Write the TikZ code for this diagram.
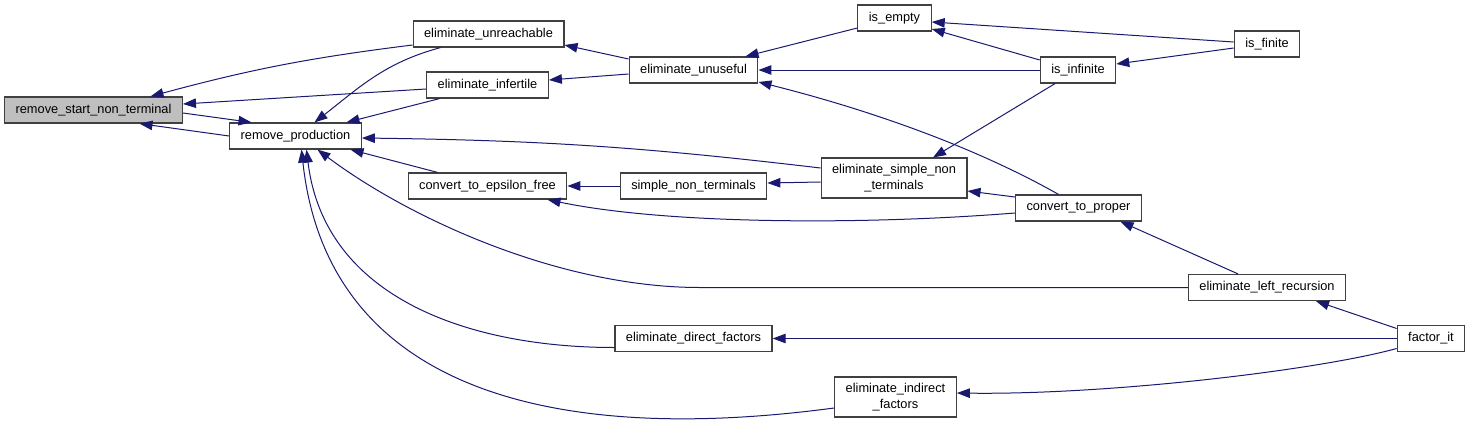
\documentclass[tikz,border=0pt]{standalone}
\usepackage{fontspec}
\setsansfont{Liberation Sans}
\usepackage{tikz}
\usetikzlibrary{arrows.meta, positioning}

\definecolor{edgeblue}{HTML}{191970}
\definecolor{boxline}{HTML}{404040}
\definecolor{rootgray}{HTML}{BFBFBF}

\begin{document}
\begin{tikzpicture}[x=1pt, y=1pt,
        func/.style={rectangle, draw=boxline, line width=1.2pt, fill=white, inner xsep=11pt, inner ysep=6pt, minimum height=26pt, align=center, font=\fontsize{12.8}{16}\selectfont\sffamily},
        focus/.style={func, fill=rootgray},
        arrow/.style={-{Triangle[length=13pt, width=9.5pt]}, edgeblue, line width=1pt}
    ]
        \useasboundingbox (0,0) rectangle (1468,-426);

        % Left side
        \node[focus] (start) at (93.5, -110) {remove\_start\_non\_terminal};
        \node[func] (prod) at (295.5, -136) {remove\_production};

        % Second column
        \node[func] (unreach) at (488.5, -34) {eliminate\_unreachable};
        \node[func] (infert) at (487.5, -85) {eliminate\_infertile};
        \node[func] (epsfree) at (487.5, -186) {convert\_to\_epsilon\_free};

        % Middle columns
        \node[func] (unuseful) at (693.5, -70) {eliminate\_unuseful};
        \node[func] (simple) at (693.5, -186) {simple\_non\_terminals};
        \node[func] (direct) at (693.5, -338.5) {eliminate\_direct\_factors};
        \node[func] (empty) at (894.5, -18) {is\_empty};
        \node[func] (simplent) at (894, -178) {eliminate\_simple\_non\\\_terminals};
        \node[func] (indirect) at (895.5, -397) {eliminate\_indirect\\\_factors};

        % Right side
        \node[func] (infinite) at (1078, -70) {is\_infinite};
        \node[func] (proper) at (1078.5, -208) {convert\_to\_proper};
        \node[func] (finite) at (1267, -44) {is\_finite};
        \node[func] (leftrec) at (1267, -287.5) {eliminate\_left\_recursion};
        \node[func] (factor) at (1431, -338.5) {factor\_it};

        % Calls into remove_start_non_terminal
        \draw[arrow] ([yshift=-11]unreach.west) to[bend right=4] ([xshift=57]start.north);
        \draw[arrow] ([yshift=-4]infert.west) -- ([yshift=6]start.east);
        \draw[arrow] (prod.west) -- ([xshift=46]start.south);
        \draw[arrow] ([yshift=-3]start.east) -- ([xshift=-44]prod.north);

        % Calls into remove_production
        \draw[arrow] ([xshift=-48]unreach.south) to[out=195, in=38] ([xshift=19]prod.north);
        \draw[arrow] ([xshift=-48]infert.south) -- ([xshift=51]prod.north);
        \draw[arrow] ([yshift=10]simplent.west) to[bend right=3] ([yshift=-2]prod.east);
        \draw[arrow] ([xshift=-50]epsfree.north) -- ([xshift=55]prod.south);
        \draw[arrow] (leftrec.west) -- ++(-488,0) .. controls +(-140,0) and +(92,-69) .. ([xshift=22]prod.south);
        \draw[arrow] ([yshift=-9]direct.west) .. controls +(-144,0) and +(18,-149) .. ([xshift=11]prod.south);
        \draw[arrow] ([yshift=-11]indirect.west) .. controls +(-300,-40) and +(25,-230) .. ([xshift=6]prod.south);

        % eliminate_unuseful and its callers
        \draw[arrow] ([yshift=11]unuseful.west) -- ([yshift=-11]unreach.east);
        \draw[arrow] ([yshift=-4]unuseful.west) -- ([yshift=5]infert.east);
        \draw[arrow] ([yshift=-10]empty.west) -- ([xshift=52]unuseful.north);
        \draw[arrow] (infinite.west) -- (unuseful.east);
        \draw[arrow] ([xshift=-20]proper.north) .. controls +(-90,51) and +(100,-25) .. ([yshift=-12]unuseful.east);

        % is_empty, is_infinite, is_finite
        \draw[arrow] ([yshift=10]infinite.west) -- ([yshift=-11]empty.east);
        \draw[arrow] ([yshift=2]finite.west) -- ([yshift=-4]empty.east);
        \draw[arrow] ([yshift=-4]finite.west) -- ([yshift=6]infinite.east);
        \draw[arrow] ([xshift=-23]infinite.south) -- ([xshift=39]simplent.north);

        % Simple non terminals chain
        \draw[arrow] ([yshift=-4]simplent.west) -- ([yshift=3]simple.east);
        \draw[arrow] (simple.west) -- (epsfree.east);
        \draw[arrow] ([yshift=-5]proper.west) .. controls +(-150,-12) and +(120,-25) .. ([xshift=60]epsfree.south);
        \draw[arrow] ([yshift=11]proper.west) -- ([yshift=-13]simplent.east);

        % factor_it and left recursion
        \draw[arrow] ([xshift=-29]leftrec.north) -- ([xshift=42]proper.south);
        \draw[arrow] ([yshift=10]factor.west) -- ([xshift=49]leftrec.south);
        \draw[arrow] (factor.west) -- (direct.east);
        \draw[arrow] ([yshift=-10]factor.west) .. controls +(-80,-22) and +(150,-2) .. ([yshift=4]indirect.east);

    \end{tikzpicture}
\end{document}
